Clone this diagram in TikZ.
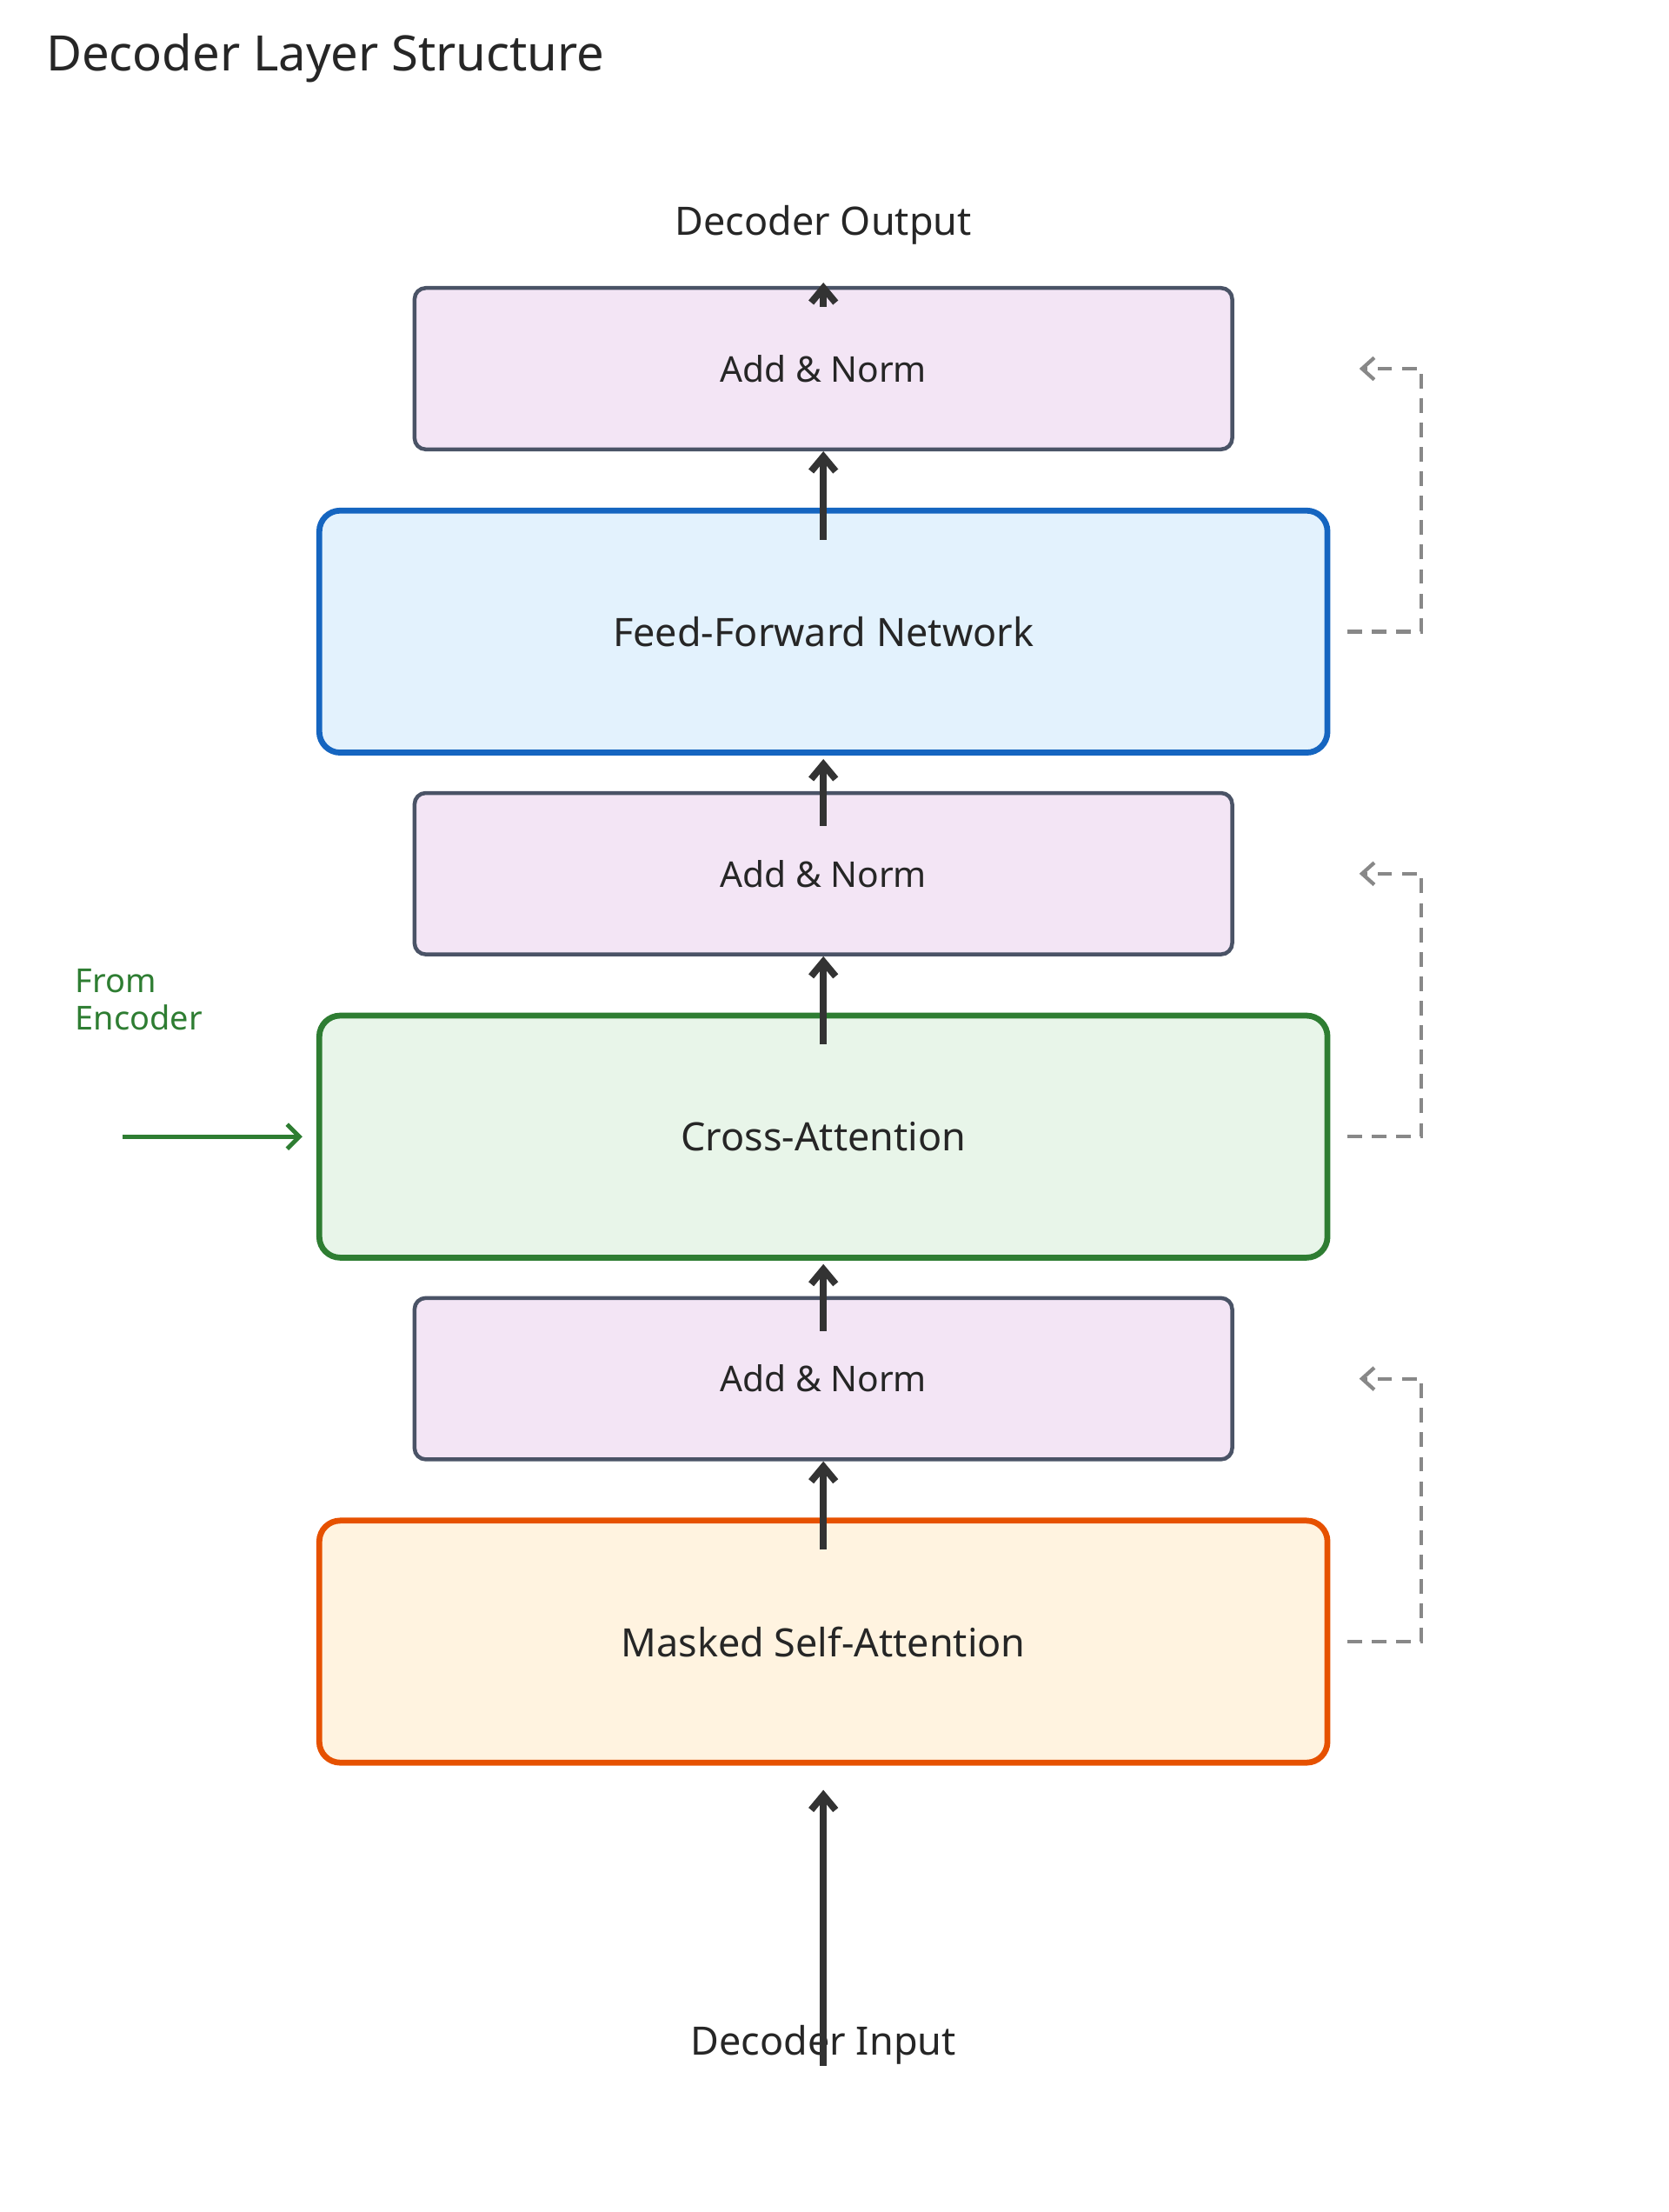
\documentclass[tikz,border=0pt]{standalone}
\usepackage{fontspec}
\setmainfont{Noto Sans}
\usetikzlibrary{arrows.meta}
\definecolor{anfill}{HTML}{F3E5F5}
\definecolor{anline}{HTML}{4A5366}
\definecolor{ffnfill}{HTML}{E3F2FD}
\definecolor{ffnline}{HTML}{1565C0}
\definecolor{cafill}{HTML}{E8F5E9}
\definecolor{caline}{HTML}{2E7D32}
\definecolor{msfill}{HTML}{FFF3E0}
\definecolor{msline}{HTML}{E65100}
\definecolor{arr}{HTML}{333333}
\definecolor{dash}{HTML}{888888}
\begin{document}
\begin{tikzpicture}[x=0.02cm,y=-0.02cm,
 anbox/.style={draw=anline,fill=anfill,line width=1.6pt,rounded corners=0.16cm,minimum width=11.76cm,minimum height=2.32cm,font=\fontsize{14.5}{17}\selectfont,text=black!85},
 bigbox/.style={line width=2.4pt,rounded corners=0.3cm,minimum width=14.5cm,minimum height=3.48cm,font=\fontsize{16}{19}\selectfont,text=black!85},
 flow/.style={draw=arr,line width=2.8pt,-{Straight Barb[length=6pt,width=10pt]}},
 resid/.style={draw=dash,line width=1.5pt,dash pattern=on 6pt off 4pt,-{Straight Barb[length=5pt,width=9pt]}},
 lbl/.style={font=\fontsize{16}{19}\selectfont,text=black!85}]
\useasboundingbox (0,0) rectangle (1200,1590);
\node[anchor=west,font=\fontsize{20}{24}\selectfont,text=black!85] (title) at (27,42) {Decoder Layer Structure};
\node[anbox] (an1) at (592,265) {Add \& Norm};
\node[bigbox,draw=ffnline,fill=ffnfill] (ffn) at (592,454) {Feed-Forward Network};
\node[anbox] (an2) at (592,628) {Add \& Norm};
\node[bigbox,draw=caline,fill=cafill] (ca) at (592,817) {Cross-Attention};
\node[anbox] (an3) at (592,991) {Add \& Norm};
\node[bigbox,draw=msline,fill=msfill] (ms) at (592,1180) {Masked Self-Attention};
\node[lbl] (out) at (592,162) {Decoder Output};
\node[lbl] (in) at (592,1470) {Decoder Input};
\node[anchor=north west,align=left,text=caline,font=\fontsize{13.5}{15.5}\selectfont] (enc) at (48,690) {From\\Encoder};
\coordinate (encs) at (88,817);
\draw[flow] ([yshift=-0.7cm]in.north) -- ([yshift=-0.35cm]ms.south);
\draw[flow] ([yshift=-0.46cm]ms.north) -- (an3.south);
\draw[flow] ([yshift=-0.5cm]an3.north) -- ([yshift=-0.05cm]ca.south);
\draw[flow] ([yshift=-0.46cm]ca.north) -- (an2.south);
\draw[flow] ([yshift=-0.5cm]an2.north) -- ([yshift=-0.05cm]ffn.south);
\draw[flow] ([yshift=-0.46cm]ffn.north) -- (an1.south);
\draw[flow] ([yshift=-0.3cm]an1.north) -- ([yshift=0.05cm]an1.north);
\draw[draw=caline,line width=1.8pt,-{Straight Barb[length=5pt,width=10pt]}] (encs) -- ([xshift=-0.2cm]ca.west);
\coordinate (r1) at (1022,454); \coordinate (r2) at (1022,817); \coordinate (r3) at (1022,1180);
\draw[resid] ([xshift=0.24cm]ffn.east) -- (r1) |- ([xshift=1.8cm]an1.east);
\draw[resid] ([xshift=0.24cm]ca.east) -- (r2) |- ([xshift=1.8cm]an2.east);
\draw[resid] ([xshift=0.24cm]ms.east) -- (r3) |- ([xshift=1.8cm]an3.east);
\end{tikzpicture}
\end{document}
